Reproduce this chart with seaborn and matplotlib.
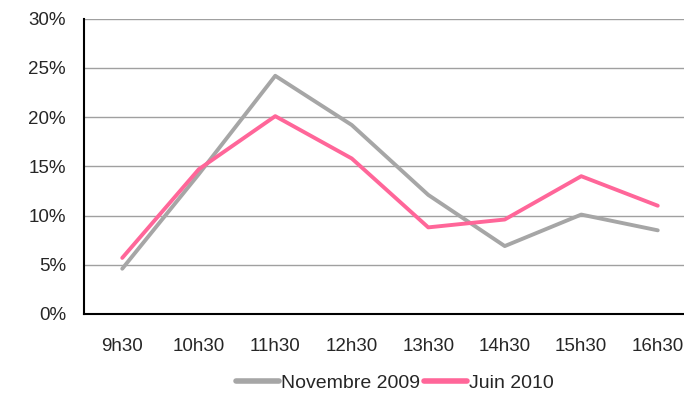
import matplotlib
matplotlib.use("Agg")
import matplotlib.pyplot as plt
import seaborn as sns
import pandas as pd
from matplotlib.ticker import FuncFormatter, MultipleLocator

categories = ["9h30", "10h30", "11h30", "12h30", "13h30", "14h30", "15h30", "16h30"]
nov_2009 = [4.6, 14.2, 24.2, 19.2, 12.1, 6.9, 10.1, 8.5]
juin_2010 = [5.7, 14.7, 20.1, 15.8, 8.8, 9.6, 14.0, 11.0]
series_names = ["Novembre 2009", "Juin 2010"]
colors = ["#A6A6A6", "#FF6699"]

df = pd.DataFrame({
    "x": list(range(len(categories))) * 2,
    "value": nov_2009 + juin_2010,
    "serie": [series_names[0]] * len(categories) + [series_names[1]] * len(categories),
})

sns.set_theme(style="white")
plt.rcParams["font.family"] = ["Liberation Sans", "DejaVu Sans"]

fig = plt.figure(figsize=(6.84, 3.94), dpi=100)
ax = fig.add_axes([84 / 684, 1 - 314 / 394, 612 / 684, (314 - 18.7) / 394])

sns.lineplot(data=df, x="x", y="value", hue="serie", palette=colors,
             hue_order=series_names, linewidth=2.8, ax=ax, legend=True)

ax.set_xlim(-0.5, len(categories) - 0.5)
ax.set_ylim(0, 30)
ax.yaxis.set_major_locator(MultipleLocator(5))
ax.yaxis.set_major_formatter(FuncFormatter(lambda v, p: f"{int(round(v))}%"))
ax.set_xticks(range(len(categories)))
ax.set_xticklabels(categories)
ax.set_xticks([i - 0.5 for i in range(len(categories) + 1)], minor=True)
ax.tick_params(axis="x", which="major", length=0, pad=17, labelsize=13.5)
ax.tick_params(axis="x", which="minor", length=5, width=1.2, color="black", direction="out")
ax.tick_params(axis="y", length=5, width=1.2, color="black", direction="out", labelsize=13.5, pad=8)
ax.set_xlabel("")
ax.set_ylabel("")
ax.grid(axis="y", color="#A0A0A0", linewidth=1)
ax.set_axisbelow(True)
for s in ["top", "right"]:
    ax.spines[s].set_visible(False)
for s in ["left", "bottom"]:
    ax.spines[s].set_color("black")
    ax.spines[s].set_linewidth(1.5)

leg = ax.legend(loc="center", bbox_to_anchor=(395 / 684, 1 - 383 / 394),
                bbox_transform=fig.transFigure, ncol=2, frameon=False,
                fontsize=14, handlelength=2.2, handletextpad=0.1,
                columnspacing=0.2, borderaxespad=0)
for line in leg.get_lines():
    line.set_linewidth(4)

fig.savefig("out.png", dpi=100)
